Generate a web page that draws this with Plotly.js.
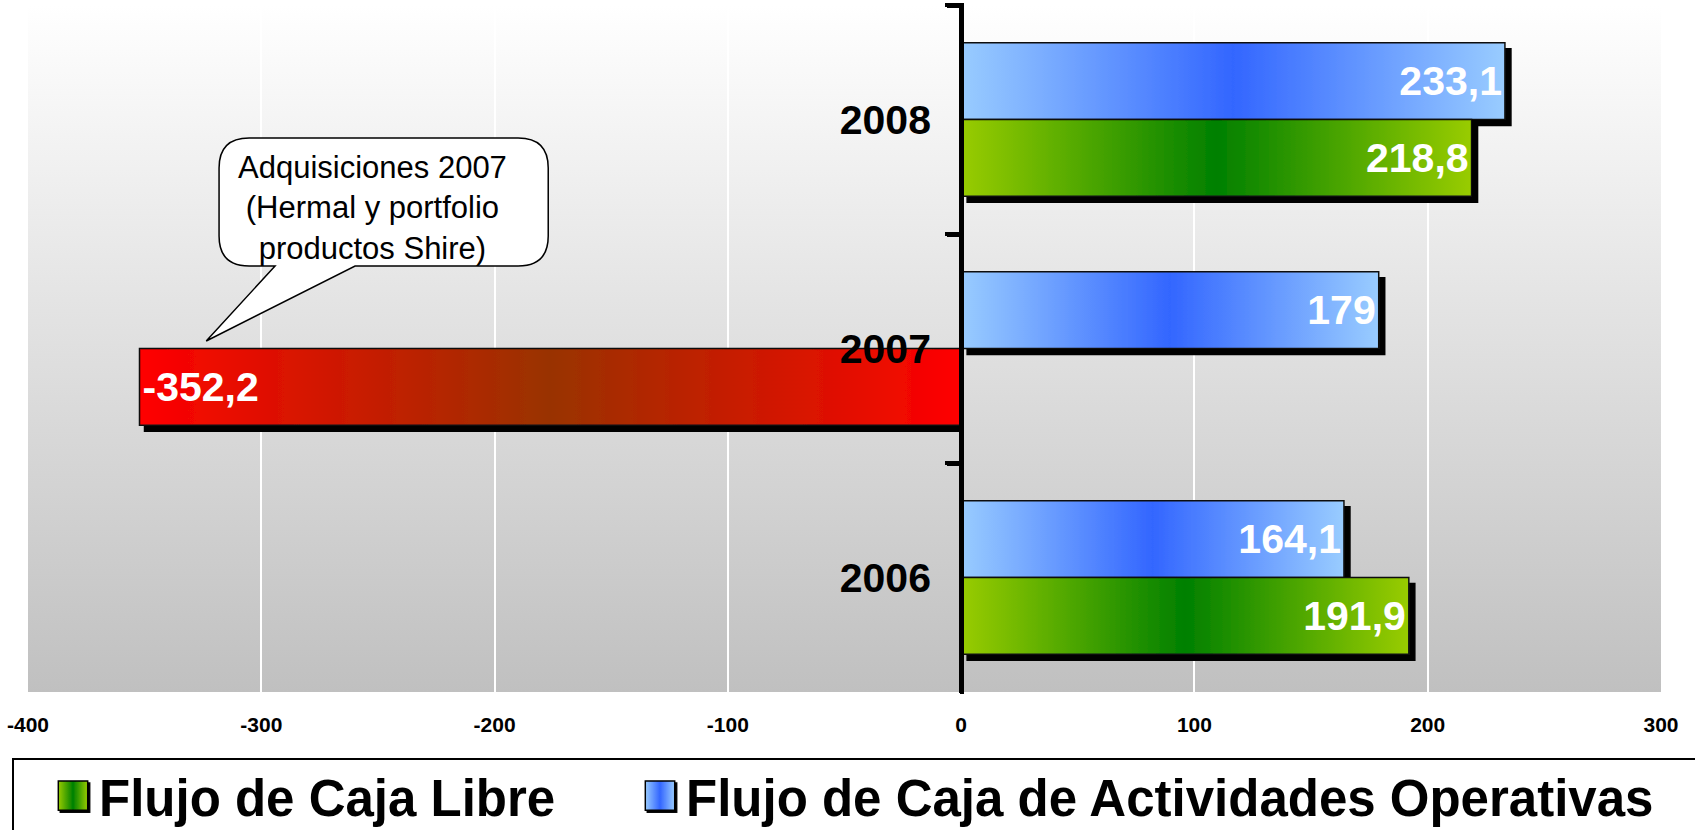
<!DOCTYPE html>
<html>
<head>
<meta charset="utf-8">
<script src="https://cdn.plot.ly/plotly-3.0.1.min.js"></script>
<style>
  html, body { margin: 0; padding: 0; background: #fff; }
  #chart { width: 1695px; height: 830px; }
</style>
</head>
<body>
<svg width="0" height="0" style="position:absolute">
  <defs>
    <linearGradient id="gGreen" x1="0" y1="0" x2="1" y2="0">
      <stop offset="0" stop-color="#99cc00"/>
      <stop offset="0.5" stop-color="#008000"/>
      <stop offset="1" stop-color="#99cc00"/>
    </linearGradient>
    <linearGradient id="gBlue" x1="0" y1="0" x2="1" y2="0">
      <stop offset="0" stop-color="#99ccff"/>
      <stop offset="0.5" stop-color="#3366ff"/>
      <stop offset="1" stop-color="#99ccff"/>
    </linearGradient>
    <linearGradient id="gRed" x1="0" y1="0" x2="1" y2="0">
      <stop offset="0" stop-color="#ff0000"/>
      <stop offset="0.5" stop-color="#993300"/>
      <stop offset="1" stop-color="#ff0000"/>
    </linearGradient>
    <linearGradient id="gBg" x1="0" y1="0" x2="0" y2="1">
      <stop offset="0" stop-color="#ffffff"/>
      <stop offset="1" stop-color="#c0c0c0"/>
    </linearGradient>
    <filter id="shadowBar" x="-5%" y="-20%" width="115%" height="150%">
      <feDropShadow dx="6" dy="6" stdDeviation="0" flood-color="#000" flood-opacity="1"/>
    </filter>
    <filter id="shadowNeg" x="-5%" y="-20%" width="105%" height="150%">
      <feDropShadow dx="5" dy="6" stdDeviation="0" flood-color="#000" flood-opacity="1"/>
    </filter>
    <filter id="shadowLeg" x="-20%" y="-20%" width="150%" height="150%">
      <feDropShadow dx="0.8" dy="0.8" stdDeviation="0" flood-color="#000" flood-opacity="1"/>
    </filter>
  </defs>
</svg>
<div id="chart"></div>
<script>
// ---- data ----
const categories = ['2008', '2007', '2006'];
const flujoLibre = [218.8, -352.2, 191.9];
const flujoOperativas = [233.1, 179, 164.1];
const seriesNames = ['Flujo de Caja Libre', 'Flujo de Caja de Actividades Operativas'];
const xTickVals = [-400, -300, -200, -100, 0, 100, 200, 300];
const xTickText = ['-400', '-300', '-200', '-100', '0', '100', '200', '300'];
const calloutText = 'Adquisiciones 2007<br>(Hermal y portfolio<br>productos Shire)';

// ---- styles ----
const FONT = 'Arial, "Liberation Sans", Helvetica, sans-serif';
const fmt = v => String(v).replace('.', ',');
const libreColors = flujoLibre.map(v => v < 0 ? '#cc2200' : '#339900');
const libreGrads = flujoLibre.map(v => v < 0 ? 'gRed' : 'gGreen');
const operGrads = flujoOperativas.map(() => 'gBlue');
const libreShadows = flujoLibre.map(v => v < 0 ? 'shadowNeg' : 'shadowBar');
const operShadows = flujoOperativas.map(v => v < 0 ? 'shadowNeg' : 'shadowBar');

const common = {
  type: 'bar', orientation: 'h', y: categories,
  textposition: 'inside', insidetextanchor: 'end', constraintext: 'none',
  textangle: 0, cliponaxis: false,
  textfont: { family: FONT, size: 41, color: '#ffffff', weight: 700 },
  hoverinfo: 'skip'
};

const data = [
  Object.assign({}, common, {
    name: seriesNames[1], x: flujoOperativas, text: flujoOperativas.map(fmt),
    marker: { color: '#6699ff', line: { color: '#111', width: 1.5 } }
  }),
  Object.assign({}, common, {
    name: seriesNames[0], x: flujoLibre, text: flujoLibre.map(fmt),
    marker: { color: libreColors, line: { color: '#111', width: 1.5 } }
  })
];

// callout geometry (x in data units, y in paper units)
const L = -318.1, R = -177.0, T = 0.8064, B = 0.6201, dx = 12.9, dy = 0.0437;
const tailL = -294.1, tailR = -259.8, tipX = -323.6, tipY = 0.5109;
const bubblePath =
  `M${L+dx},${T} L${R-dx},${T} Q${R},${T} ${R},${T-dy} L${R},${B+dy} Q${R},${B} ${R-dx},${B} ` +
  `L${tailR},${B} L${tipX},${tipY} L${tailL},${B} L${L+dx},${B} Q${L},${B} ${L},${B+dy} ` +
  `L${L},${T-dy} Q${L},${T} ${L+dx},${T} Z`;

const layout = {
  width: 1695, height: 830,
  margin: { l: 28, r: 34, t: 5, b: 138, pad: 0 },
  paper_bgcolor: '#ffffff',
  plot_bgcolor: '#e0e0e0',
  font: { family: FONT, color: '#000' },
  barmode: 'group', bargap: 0.33, bargroupgap: 0,
  hovermode: false,
  showlegend: true,
  xaxis: {
    range: [-400, 300], tickvals: xTickVals, ticktext: xTickText,
    showgrid: true, gridcolor: '#ffffff', gridwidth: 2,
    zeroline: false, showline: false, ticks: '',
    tickfont: { family: FONT, size: 21, weight: 700, color: '#000' },
    ticklabelstandoff: 18, fixedrange: true
  },
  yaxis: {
    type: 'category', autorange: 'reversed',
    anchor: 'free', position: 400 / 700, side: 'left',
    showline: true, linecolor: '#000', linewidth: 5,
    ticks: 'outside', tickson: 'boundaries', ticklen: 12, tickwidth: 5, tickcolor: '#000',
    tickfont: { family: FONT, size: 41, weight: 700, color: '#000' },
    ticklabelstandoff: 20,
    showgrid: false, zeroline: false, layer: 'above traces', fixedrange: true
  },
  legend: {
    orientation: 'h', traceorder: 'reversed',
    xref: 'container', yref: 'container',
    x: 12 / 1695, y: 1 - 758 / 830, xanchor: 'left', yanchor: 'top',
    bgcolor: '#ffffff', bordercolor: '#000', borderwidth: 2,
    font: { family: FONT, size: 51, weight: 700, color: '#000' },
    itemwidth: 42, entrywidth: 497, entrywidthmode: 'pixels', indentation: 33,
    itemclick: false, itemdoubleclick: false
  },
  shapes: [{
    type: 'path', xref: 'x', yref: 'paper', path: bubblePath,
    fillcolor: '#ffffff', line: { color: '#000', width: 1.5 }, layer: 'above'
  }],
  annotations: [{
    xref: 'x', yref: 'paper', x: -252.5, y: 0.705, xanchor: 'center', yanchor: 'middle',
    text: calloutText, showarrow: false, align: 'center',
    font: { family: FONT, size: 31, color: '#000' }
  }]
};

const gd = document.getElementById('chart');
Plotly.newPlot(gd, data, layout, { displayModeBar: false, staticPlot: true }).then(() => {
  gd.querySelectorAll('.bglayer rect.bg').forEach(r => { r.style.fill = 'url(#gBg)'; });
  const gradsByTrace = [operGrads, libreGrads];
  const shadowsByTrace = [operShadows, libreShadows];
  gd.querySelectorAll('.barlayer .trace').forEach((tr, ti) => {
    tr.querySelectorAll('.point').forEach((pt, pi) => {
      const p = pt.querySelector('path');
      if (!p) return;
      p.style.fill = `url(#${gradsByTrace[ti][pi]})`;
      p.setAttribute('filter', `url(#${shadowsByTrace[ti][pi]})`);
    });
  });
  gd.querySelectorAll('.legend .traces').forEach(item => {
    let idx = 0;
    try { idx = item.__data__[0].trace.index; } catch (e) {}
    const gid = idx === 0 ? 'gBlue' : 'gGreen';
    item.querySelectorAll('.legendpoints path').forEach(p => {
      const t = p.getAttribute('transform') || '';
      p.setAttribute('transform', t + ' scale(2.45)');
      p.style.fill = `url(#${gid})`;
      p.style.strokeWidth = '0.6px';
      p.style.stroke = '#000';
      p.setAttribute('filter', 'url(#shadowLeg)');
    });
  });
  // legend box runs past the page edges as in the original
  gd.querySelectorAll('.legend rect.bg').forEach(r => {
    r.setAttribute('width', 1760);
    r.setAttribute('height', 140);
  });
  gd.querySelectorAll('.legend .scrollbox').forEach(s => {
    s.removeAttribute('clip-path');
    s.style.clipPath = 'none';
    const t = s.getAttribute('transform') || '';
    s.setAttribute('transform', t + ' translate(0,-4)');
  });
  gd.querySelectorAll('.yaxislayer-above path, .ylines-above').forEach(p => { p.style.strokeLinecap = 'round'; });
});
</script>
</body>
</html>
